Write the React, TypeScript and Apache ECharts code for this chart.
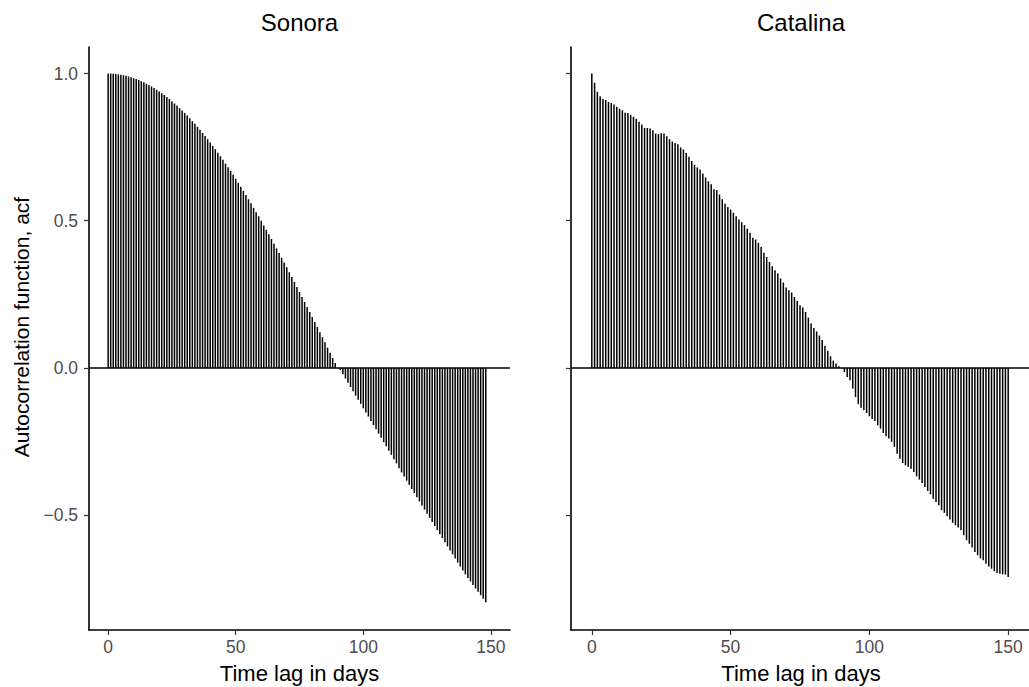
import React, { useEffect, useRef } from "react";
import * as echarts from "echarts";

const panelTitles = ["Sonora", "Catalina"];
const xTitle = "Time lag in days";
const yTitle = "Autocorrelation function, acf";
const xTicks = [0, 50, 100, 150];
const yTicks = [-0.5, 0, 0.5, 1.0];

// ACF values, lag 0..148 (Sonora)
const sonoraAcf = [
  1.000, 1.000, 0.999, 0.998, 0.997, 0.996, 0.994, 0.992, 0.990, 0.987,
  0.984, 0.981, 0.978, 0.974, 0.970, 0.965, 0.961, 0.956, 0.951, 0.945,
  0.939, 0.933, 0.927, 0.920, 0.913, 0.906, 0.898, 0.891, 0.882, 0.874,
  0.866, 0.857, 0.848, 0.838, 0.829, 0.819, 0.809, 0.798, 0.788, 0.777,
  0.766, 0.754, 0.743, 0.731, 0.719, 0.707, 0.694, 0.682, 0.669, 0.656,
  0.642, 0.629, 0.615, 0.601, 0.587, 0.573, 0.559, 0.544, 0.529, 0.515,
  0.500, 0.484, 0.469, 0.454, 0.438, 0.422, 0.406, 0.390, 0.374, 0.358,
  0.342, 0.325, 0.309, 0.292, 0.275, 0.258, 0.241, 0.224, 0.207, 0.190,
  0.173, 0.156, 0.139, 0.121, 0.104, 0.087, 0.069, 0.052, 0.034, 0.017,
  -0.001, -0.007, -0.021, -0.036, -0.050, -0.065, -0.079, -0.094, -0.108, -0.122,
  -0.137, -0.151, -0.165, -0.180, -0.194, -0.208, -0.223, -0.237, -0.252, -0.266,
  -0.281, -0.295, -0.310, -0.324, -0.341, -0.355, -0.369, -0.383, -0.397, -0.411,
  -0.425, -0.439, -0.453, -0.467, -0.481, -0.495, -0.509, -0.523, -0.537, -0.551,
  -0.565, -0.578, -0.592, -0.606, -0.620, -0.633, -0.647, -0.661, -0.674, -0.688,
  -0.701, -0.713, -0.725, -0.737, -0.749, -0.760, -0.772, -0.784, -0.796,
];

// ACF values, lag 0..150 (Catalina)
const catalinaAcf = [
  1.000, 0.969, 0.938, 0.923, 0.913, 0.910, 0.903, 0.900, 0.895, 0.887,
  0.880, 0.875, 0.867, 0.866, 0.859, 0.853, 0.846, 0.836, 0.827, 0.815,
  0.815, 0.813, 0.807, 0.796, 0.794, 0.797, 0.796, 0.787, 0.777, 0.769,
  0.764, 0.760, 0.749, 0.742, 0.730, 0.717, 0.703, 0.690, 0.681, 0.674,
  0.660, 0.647, 0.634, 0.624, 0.607, 0.604, 0.589, 0.573, 0.558, 0.547,
  0.538, 0.527, 0.515, 0.504, 0.495, 0.485, 0.473, 0.459, 0.442, 0.436,
  0.425, 0.411, 0.391, 0.377, 0.360, 0.345, 0.332, 0.321, 0.304, 0.290,
  0.273, 0.264, 0.256, 0.241, 0.228, 0.213, 0.205, 0.190, 0.171, 0.151,
  0.136, 0.124, 0.110, 0.095, 0.075, 0.058, 0.040, 0.025, 0.015, 0.006,
  -0.002, -0.014, -0.031, -0.042, -0.070, -0.099, -0.123, -0.135, -0.144, -0.153,
  -0.164, -0.173, -0.180, -0.195, -0.206, -0.221, -0.232, -0.240, -0.251, -0.268,
  -0.291, -0.308, -0.323, -0.331, -0.336, -0.342, -0.353, -0.368, -0.379, -0.391,
  -0.404, -0.418, -0.429, -0.444, -0.455, -0.466, -0.483, -0.492, -0.504, -0.515,
  -0.526, -0.534, -0.542, -0.551, -0.568, -0.585, -0.597, -0.610, -0.625, -0.636,
  -0.647, -0.653, -0.665, -0.674, -0.682, -0.690, -0.696, -0.699, -0.701, -0.702,
  -0.710,
];

const FONT = "'Liberation Sans', Arial, sans-serif";

export default function App() {
  const ref = useRef<HTMLDivElement>(null);
  useEffect(() => {
    if (!ref.current) return;
    const chart = echarts.init(ref.current, null, { renderer: "svg" });
    const grids = [
      { left: 89, top: 47, width: 421, height: 583 },
      { left: 571, top: 47, width: 460, height: 583 },
    ];
    const fmt = (v: number) => (v < 0 ? "\u2212" : "") + Math.abs(v).toFixed(1);
    const mkX = (i: number) => ({
      type: "value",
      gridIndex: i,
      min: -7.5,
      max: 157.5,
      axisLine: { show: true, onZero: false, lineStyle: { color: "#000", width: 1.6 } },
      axisTick: { show: true, length: 5, customValues: xTicks, lineStyle: { color: "#333", width: 1.2 } },
      axisLabel: { customValues: xTicks, color: "#4d4d4d", fontSize: 17.5, fontFamily: FONT, margin: 8 },
      splitLine: { show: false },
    });
    const mkY = (i: number) => ({
      type: "value",
      gridIndex: i,
      min: -0.89,
      max: 1.09,
      axisLine: { show: true, onZero: false, lineStyle: { color: "#000", width: 1.6 } },
      axisTick: { show: true, length: 5, customValues: yTicks, lineStyle: { color: "#333", width: 1.2 } },
      axisLabel: {
        show: i === 0,
        customValues: yTicks,
        color: "#4d4d4d",
        fontSize: 17.5,
        fontFamily: FONT,
        margin: 11,
        formatter: fmt,
      },
      splitLine: { show: false },
    });
    const mkSeries = (i: number, vals: number[]) => ({
      type: "bar",
      xAxisIndex: i,
      yAxisIndex: i,
      data: vals.map((v, k) => [k, v]),
      barWidth: 1.5,
      itemStyle: { color: "#000" },
      markLine: {
        silent: true,
        symbol: ["none", "none"],
        label: { show: false },
        lineStyle: { color: "#000", width: 1.5, type: "solid" },
        data: [{ yAxis: 0 }],
      },
    });
    const centers = [89 + 421 / 2, 571 + 460 / 2];
    chart.setOption({
      animation: false,
      backgroundColor: "#fff",
      grid: grids,
      xAxis: [mkX(0), mkX(1)],
      yAxis: [mkY(0), mkY(1)],
      series: [mkSeries(0, sonoraAcf), mkSeries(1, catalinaAcf)],
      graphic: [
        ...panelTitles.map((t, i) => ({
          type: "text",
          x: centers[i],
          y: 22,
          style: { text: t, textAlign: "center", textVerticalAlign: "middle", font: `24px ${FONT}`, fill: "#000" },
        })),
        ...[0, 1].map((i) => ({
          type: "text",
          x: centers[i],
          y: 673,
          style: { text: xTitle, textAlign: "center", textVerticalAlign: "middle", font: `22px ${FONT}`, fill: "#000" },
        })),
        {
          type: "text",
          x: 21,
          y: 327,
          rotation: Math.PI / 2,
          style: { text: yTitle, textAlign: "center", textVerticalAlign: "middle", font: `21px ${FONT}`, fill: "#000" },
        },
      ],
    });
    return () => chart.dispose();
  }, []);
  return (
    <div
      ref={ref}
      style={{ position: "fixed", left: 0, top: 0, width: 1029, height: 687, background: "#fff" }}
    />
  );
}
